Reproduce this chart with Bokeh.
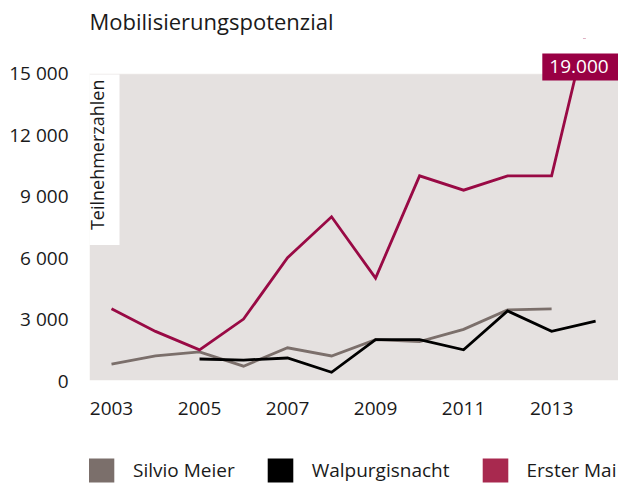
import math
from bokeh.plotting import figure
from bokeh.layouts import column
from bokeh.models import (FixedTicker, Label, Legend, LegendItem, Range1d, BoxAnnotation)
from bokeh.embed import file_html
from bokeh.resources import INLINE

# ---------------- data ----------------
title_text = "Mobilisierungspotenzial"
y_title = "Teilnehmerzahlen"
series_names = ["Silvio Meier", "Walpurgisnacht", "Erster Mai"]

years_silvio = [2003, 2004, 2005, 2006, 2007, 2008, 2009, 2010, 2011, 2012, 2013]
silvio = [800, 1200, 1400, 700, 1600, 1200, 2000, 1900, 2500, 3450, 3500]

years_walp = [2005, 2006, 2007, 2008, 2009, 2010, 2011, 2012, 2013, 2014]
walp = [1050, 1000, 1100, 400, 2000, 2000, 1500, 3400, 2400, 2900]

years_mai = [2003, 2004, 2005, 2006, 2007, 2008, 2009, 2010, 2011, 2012, 2013, 2014]
mai = [3500, 2400, 1500, 3000, 6000, 8000, 5000, 10000, 9300, 10000, 10000, 19000]

y_ticks = [0, 3000, 6000, 9000, 12000, 15000]
y_tick_labels = ["0", "3 000", "6 000", "9 000", "12 000", "15 000"]
x_ticks = [2003, 2005, 2007, 2009, 2011, 2013]
x_tick_labels = ["2003", "2005", "2007", "2009", "2011", "2013"]

# ---------------- style ----------------
FONT = "Open Sans"
TEXT = "#1a1a1a"
BG = "#e5e1e0"
C_SILVIO = "#7b6f6b"
C_WALP = "#000000"
C_MAI = "#990a45"
C_MAI_LEG = "#a8294f"
C_PEAK = "#990044"

Y_TOP_AXIS = y_ticks[-1]
Y_FRAME_TOP = 16710  # room above the axis for the peak label

p = figure(width=618, height=440, output_backend="svg", toolbar_location=None,
           x_range=Range1d(2002.5, 2014.52), y_range=Range1d(0, Y_FRAME_TOP),
           min_border_left=89, min_border_right=0, min_border_top=38,
           min_border_bottom=60)

p.background_fill_color = "white"
p.border_fill_color = "white"
p.outline_line_color = None
p.grid.visible = False

p.title.text = title_text
p.title.text_font = FONT
p.title.text_font_size = "22px"
p.title.text_font_style = "normal"
p.title.text_color = TEXT
p.title.standoff = 6
p.title.align = "left"

for ax in (p.xaxis[0], p.yaxis[0]):
    ax.axis_line_color = None
    ax.major_tick_line_color = None
    ax.minor_tick_line_color = None
    ax.major_tick_out = 0
    ax.major_tick_in = 0
    ax.major_label_text_font = FONT
    ax.major_label_text_font_size = "19px"
    ax.major_label_text_color = TEXT

p.yaxis.ticker = FixedTicker(ticks=y_ticks)
p.yaxis.major_label_overrides = {t: l for t, l in zip(y_ticks, y_tick_labels)}
p.yaxis.major_label_standoff = 21
p.xaxis.ticker = FixedTicker(ticks=x_ticks)
p.xaxis.major_label_overrides = {t: l for t, l in zip(x_ticks, x_tick_labels)}
p.xaxis.major_label_standoff = 21

# grey plotting area from 0 up to the top tick (drawn beneath the lines)
p.add_layout(BoxAnnotation(top=Y_TOP_AXIS, fill_color=BG, fill_alpha=1.0,
                           line_color=None, level="underlay"))

# lines
lw = 2.8
p.line(years_silvio, silvio, line_color=C_SILVIO, line_width=lw, line_join="miter")
p.line(years_walp, walp, line_color=C_WALP, line_width=lw, line_join="miter")
p.line(years_mai, mai, line_color=C_MAI, line_width=lw, line_join="miter")

# white area above the top tick hides the part of the line beyond the axis
p.add_layout(BoxAnnotation(bottom=Y_TOP_AXIS, fill_color="white", fill_alpha=1.0,
                           line_color="white", line_width=2))

# y-axis title as a label with a white box inside the frame
p.add_layout(Label(x=2002.5, y=Y_TOP_AXIS, text=y_title, angle=math.pi / 2,
                   text_align="right", text_baseline="alphabetic",
                   x_offset=10, y_offset=-1,
                   text_font=FONT, text_font_size="18px", text_color=TEXT,
                   background_fill_color="white",
                   padding=dict(left=15, right=5, top=5, bottom=11)))

# peak value label
peak_text = f"{mai[-1]:,}".replace(",", ".")
p.add_layout(Label(x=years_mai[-1], y=Y_TOP_AXIS, text=peak_text,
                   text_align="right", text_baseline="middle",
                   x_offset=23, y_offset=6.5,
                   text_font=FONT, text_font_size="19px", text_color="white",
                   background_fill_color=C_PEAK,
                   padding=dict(left=7, right=10, top=7, bottom=7)))

# ---------------- legend strip ----------------
lg = figure(width=618, height=43, output_backend="svg", toolbar_location=None,
            x_range=Range1d(0, 1), y_range=Range1d(0, 1),
            x_axis_location=None, y_axis_location=None,
            min_border_left=89, min_border_right=0, min_border_top=0, min_border_bottom=0)
lg.outline_line_color = None
lg.grid.visible = False
lg.background_fill_color = "white"
lg.border_fill_color = "white"

# zero-size proxies (outside the strip's range) that only lend their colour to the legend
proxies = []
for xs, ys, c in ((years_silvio, silvio, C_SILVIO), (years_walp, walp, C_WALP),
                  (years_mai, mai, C_MAI_LEG)):
    proxies.append(lg.quad(left=xs[:1], right=xs[:1], top=ys[:1], bottom=ys[:1],
                           fill_color=c, line_color=None))

legend = Legend(items=[LegendItem(label=n, renderers=[r]) for n, r in zip(series_names, proxies)],
                location=(-4, -2), orientation="horizontal",
                glyph_width=32, glyph_height=30, label_standoff=16, spacing=29,
                padding=0, margin=0, border_line_color=None, background_fill_alpha=0,
                label_text_font=FONT, label_text_font_size="19px", label_text_color=TEXT)
lg.add_layout(legend)

layout = column(p, lg, spacing=0)
open("out.html", "w").write(file_html(layout, INLINE))
